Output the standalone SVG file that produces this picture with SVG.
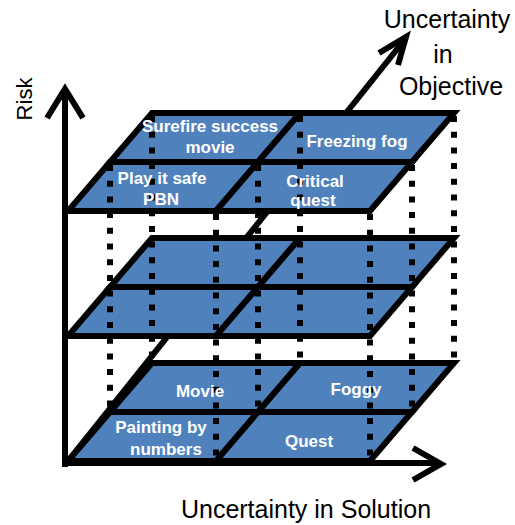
<svg xmlns="http://www.w3.org/2000/svg" width="515" height="525" viewBox="0 0 515 525">
<style>
.cell{fill:#4F81BD;stroke:#000;stroke-width:6;stroke-linejoin:miter}
.axis{fill:none;stroke:#000;stroke-width:6;stroke-linecap:butt;stroke-linejoin:miter}
.dot{stroke:#000;stroke-width:6;stroke-dasharray:6 9.7;fill:none}
.lbl{font-family:"Liberation Sans",Arial,sans-serif;font-weight:bold;font-size:17px;fill:#fff;text-anchor:middle}
.ax{font-family:"Liberation Sans",Arial,sans-serif;font-size:25px;fill:#000;text-anchor:middle}
</style>
<rect width="515" height="525" fill="#fff"/>
<g id="connectors">
  <line class="axis" x1="68" y1="461" x2="406" y2="38"/>
  <polyline class="axis" points="379,53 406,37 398,65"/>
</g>
<g id="layer-top">
  <g id="cell-play-it-safe"><polygon class="cell" points="68,211 216,211 258,162 110,162"/></g>
  <g id="cell-critical-quest"><polygon class="cell" points="216,211 370,211 412,162 258,162"/></g>
  <g id="cell-surefire"><polygon class="cell" points="110,162 258,162 300,113 152,113"/></g>
  <g id="cell-freezing-fog"><polygon class="cell" points="258,162 412,162 454,113 300,113"/></g>
</g>
<g id="layer-middle">
  <g id="cell-mid-fl"><polygon class="cell" points="68,336 216,336 258,287 110,287"/></g>
  <g id="cell-mid-fr"><polygon class="cell" points="216,336 370,336 412,287 258,287"/></g>
  <g id="cell-mid-bl"><polygon class="cell" points="110,287 258,287 300,238 152,238"/></g>
  <g id="cell-mid-br"><polygon class="cell" points="258,287 412,287 454,238 300,238"/></g>
</g>
<g id="layer-bottom">
  <g id="cell-painting"><polygon class="cell" points="68,461 216,461 258,412 110,412"/></g>
  <g id="cell-quest"><polygon class="cell" points="216,461 370,461 412,412 258,412"/></g>
  <g id="cell-movie"><polygon class="cell" points="110,412 258,412 300,363 152,363"/></g>
  <g id="cell-foggy"><polygon class="cell" points="258,412 412,412 454,363 300,363"/></g>
</g>
<g id="dotted-verticals">
  <line class="dot" x1="152" y1="116" x2="152" y2="363"/>
  <line class="dot" x1="300" y1="116" x2="300" y2="363"/>
  <line class="dot" x1="454" y1="116" x2="454" y2="363"/>
  <line class="dot" x1="110" y1="165" x2="110" y2="412"/>
  <line class="dot" x1="258" y1="165" x2="258" y2="412"/>
  <line class="dot" x1="412" y1="165" x2="412" y2="412"/>
  <line class="dot" x1="216" y1="214" x2="216" y2="461"/>
  <line class="dot" x1="370" y1="214" x2="370" y2="461"/>
</g>
<g id="labels">
  <text class="lbl" x="210" y="132">Surefire success</text>
  <text class="lbl" x="210" y="153">movie</text>
  <text class="lbl" x="357" y="147">Freezing fog</text>
  <text class="lbl" x="162" y="184">Play it safe</text>
  <text class="lbl" x="161" y="205">PBN</text>
  <text class="lbl" x="315" y="187">Critical</text>
  <text class="lbl" x="313" y="206">quest</text>
  <text class="lbl" x="200" y="397">Movie</text>
  <text class="lbl" x="356" y="395">Foggy</text>
  <text class="lbl" x="161" y="433">Painting by</text>
  <text class="lbl" x="166" y="455">numbers</text>
  <text class="lbl" x="309" y="447">Quest</text>
</g>
<g id="axes">
  <line class="axis" x1="65" y1="91" x2="65" y2="467"/>
  <polyline class="axis" points="47,118 65,89 83,118"/>
  <line class="axis" x1="62" y1="463" x2="440" y2="463"/>
  <polyline class="axis" points="413,448 441,464 413,480"/>
</g>
<g id="axis-labels">
  <text class="ax" x="447" y="28">Uncertainty</text>
  <text class="ax" x="443" y="63">in</text>
  <text class="ax" x="451" y="95">Objective</text>
  <text class="ax" x="306" y="518">Uncertainty in Solution</text>
  <text class="ax" style="font-size:22px" transform="translate(32,99) rotate(-90)">Risk</text>
</g>
</svg>
